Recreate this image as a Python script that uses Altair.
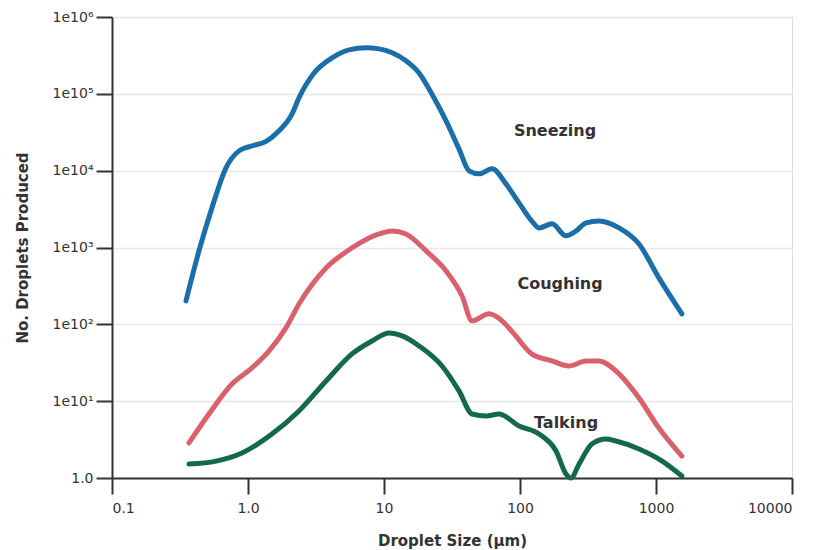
import altair as alt
import pandas as pd

# Droplet size (µm) and number of droplets
sneezing_x = [0.35, 0.436, 0.543, 0.689, 0.859, 1.07, 1.36, 1.69, 2.11, 2.37, 3.06, 4.15, 5.53, 7.38,
              9.19, 11.5, 14.5, 18.1, 23.3, 28.6, 35.6, 42.2, 50.0, 62.3, 78.9, 98.4, 122, 138, 172,
              218, 258, 306, 381, 535, 750, 1050, 1550]
sneezing_y = [202, 903, 3280, 10900, 18100, 21000, 24000, 33000, 54900, 88700, 187000, 294000, 374000,
              397000, 385000, 342000, 269000, 187000, 88700, 44500, 19200, 9940, 9090, 10600, 6730,
              3810, 2220, 1800, 2030, 1420, 1640, 2090, 2220, 1800, 1110, 402, 137]

coughing_x = [0.368, 0.516, 0.762, 1.07, 1.43, 1.90, 2.37, 3.75, 5.82, 9.19, 11.5, 14.5, 20.4, 28.6,
              37.5, 44.4, 59.2, 73.8, 90.4, 122, 172, 229, 306, 381, 508, 750, 1050, 1550]
coughing_y = [2.86, 6.81, 16.7, 27.1, 45.1, 89.8, 184, 542, 988, 1500, 1640, 1500, 903, 496,
              234, 111, 137, 111, 75, 41.2, 33.4, 28.7, 33.4, 33.4, 24.7, 11.0, 4.48, 1.93]

talking_x = [0.368, 0.582, 0.904, 1.50, 2.37, 3.75, 5.82, 8.16, 10.9, 13.6, 18.1, 26.7, 35.6, 44.4,
             56.2, 70.2, 98.4, 138, 184, 218, 237, 272, 338, 428, 508, 750, 1110, 1550]
talking_y = [1.52, 1.66, 2.12, 3.74, 7.45, 18.3, 41.2, 60.8, 77.3, 70.6, 52.3, 28.7, 13.6, 6.81,
             6.42, 6.81, 4.75, 3.74, 2.25, 1.13, 1.0, 1.52, 2.77, 3.22, 3.03, 2.39, 1.66, 1.06]

series_names = ["Sneezing", "Coughing", "Talking"]
series_colors = ["#1b6ea8", "#d9616d", "#13694a"]

label_text = ["Sneezing", "Coughing", "Talking"]
label_x = [181, 197, 218]
label_y = [33000, 336, 5.2]

x_tick_values = [0.1, 1, 10, 100, 1000, 10000]
x_tick_labels = ["0.1", "1.0", "10", "100", "1000", "10000"]
y_tick_values = [1, 10, 100, 1000, 10000, 100000, 1000000]
y_tick_labels = ["1.0", "1e10¹", "1e10²", "1e10³", "1e10⁴", "1e10⁵", "1e10⁶"]


def label_expr(values, labels):
    expr = "''"
    for v, l in reversed(list(zip(values, labels))):
        expr = f"abs(datum.value - {v}) < {v} * 0.001 ? '{l}' : ({expr})"
    return expr


rows = []
for name, xs, ys in [("Sneezing", sneezing_x, sneezing_y),
                     ("Coughing", coughing_x, coughing_y),
                     ("Talking", talking_x, talking_y)]:
    for i, (x, y) in enumerate(zip(xs, ys)):
        rows.append({"series": name, "size": x, "count": y, "order": i})
df = pd.DataFrame(rows)
labels_df = pd.DataFrame({"text": label_text, "size": label_x, "count": label_y})

FONT = "DejaVu Sans"

x_scale = alt.Scale(type="log", domain=[0.1, 10000], nice=False)
y_scale = alt.Scale(type="log", domain=[1, 1000000], nice=False)

lines = alt.Chart(df).mark_line(strokeWidth=5, interpolate="monotone", strokeCap="round",
                                strokeJoin="round").encode(
    x=alt.X("size:Q", scale=x_scale,
            axis=alt.Axis(title="Droplet Size (µm)", values=x_tick_values,
                          labelExpr=label_expr(x_tick_values, x_tick_labels),
                          grid=False, tickSize=16, tickWidth=2, tickColor="#333",
                          domainColor="#333", domainWidth=2, labelPadding=7,
                          labelFont=FONT, labelFontSize=14, labelColor="#333",
                          titleFont=FONT, titleFontSize=15, titleFontWeight="bold",
                          titleColor="#333", titlePadding=18)),
    y=alt.Y("count:Q", scale=y_scale,
            axis=alt.Axis(title="No. Droplets Produced", values=y_tick_values,
                          labelExpr=label_expr(y_tick_values, y_tick_labels),
                          grid=True, gridColor="#e8e8e8", gridWidth=1.5,
                          tickSize=16, tickWidth=2, tickColor="#333",
                          domainColor="#333", domainWidth=2, labelPadding=3,
                          labelFont=FONT, labelFontSize=14, labelColor="#333",
                          titleFont=FONT, titleFontSize=15, titleFontWeight="bold",
                          titleColor="#333", titlePadding=22)),
    color=alt.Color("series:N", scale=alt.Scale(domain=series_names, range=series_colors),
                    legend=None),
    detail="series:N",
    order="order:Q",
)

texts = alt.Chart(labels_df).mark_text(font=FONT, fontSize=16, fontWeight="bold",
                                       color="#333").encode(
    x=alt.X("size:Q", scale=x_scale),
    y=alt.Y("count:Q", scale=y_scale),
    text="text:N",
)

chart = (lines + texts).properties(
    width=680, height=461,
    padding={"left": 7, "top": 2, "right": 5, "bottom": 5},
).configure_view(stroke="#555", strokeWidth=2).configure(background="white")

chart.save("out.html", embed_options={"renderer": "svg", "actions": False})
